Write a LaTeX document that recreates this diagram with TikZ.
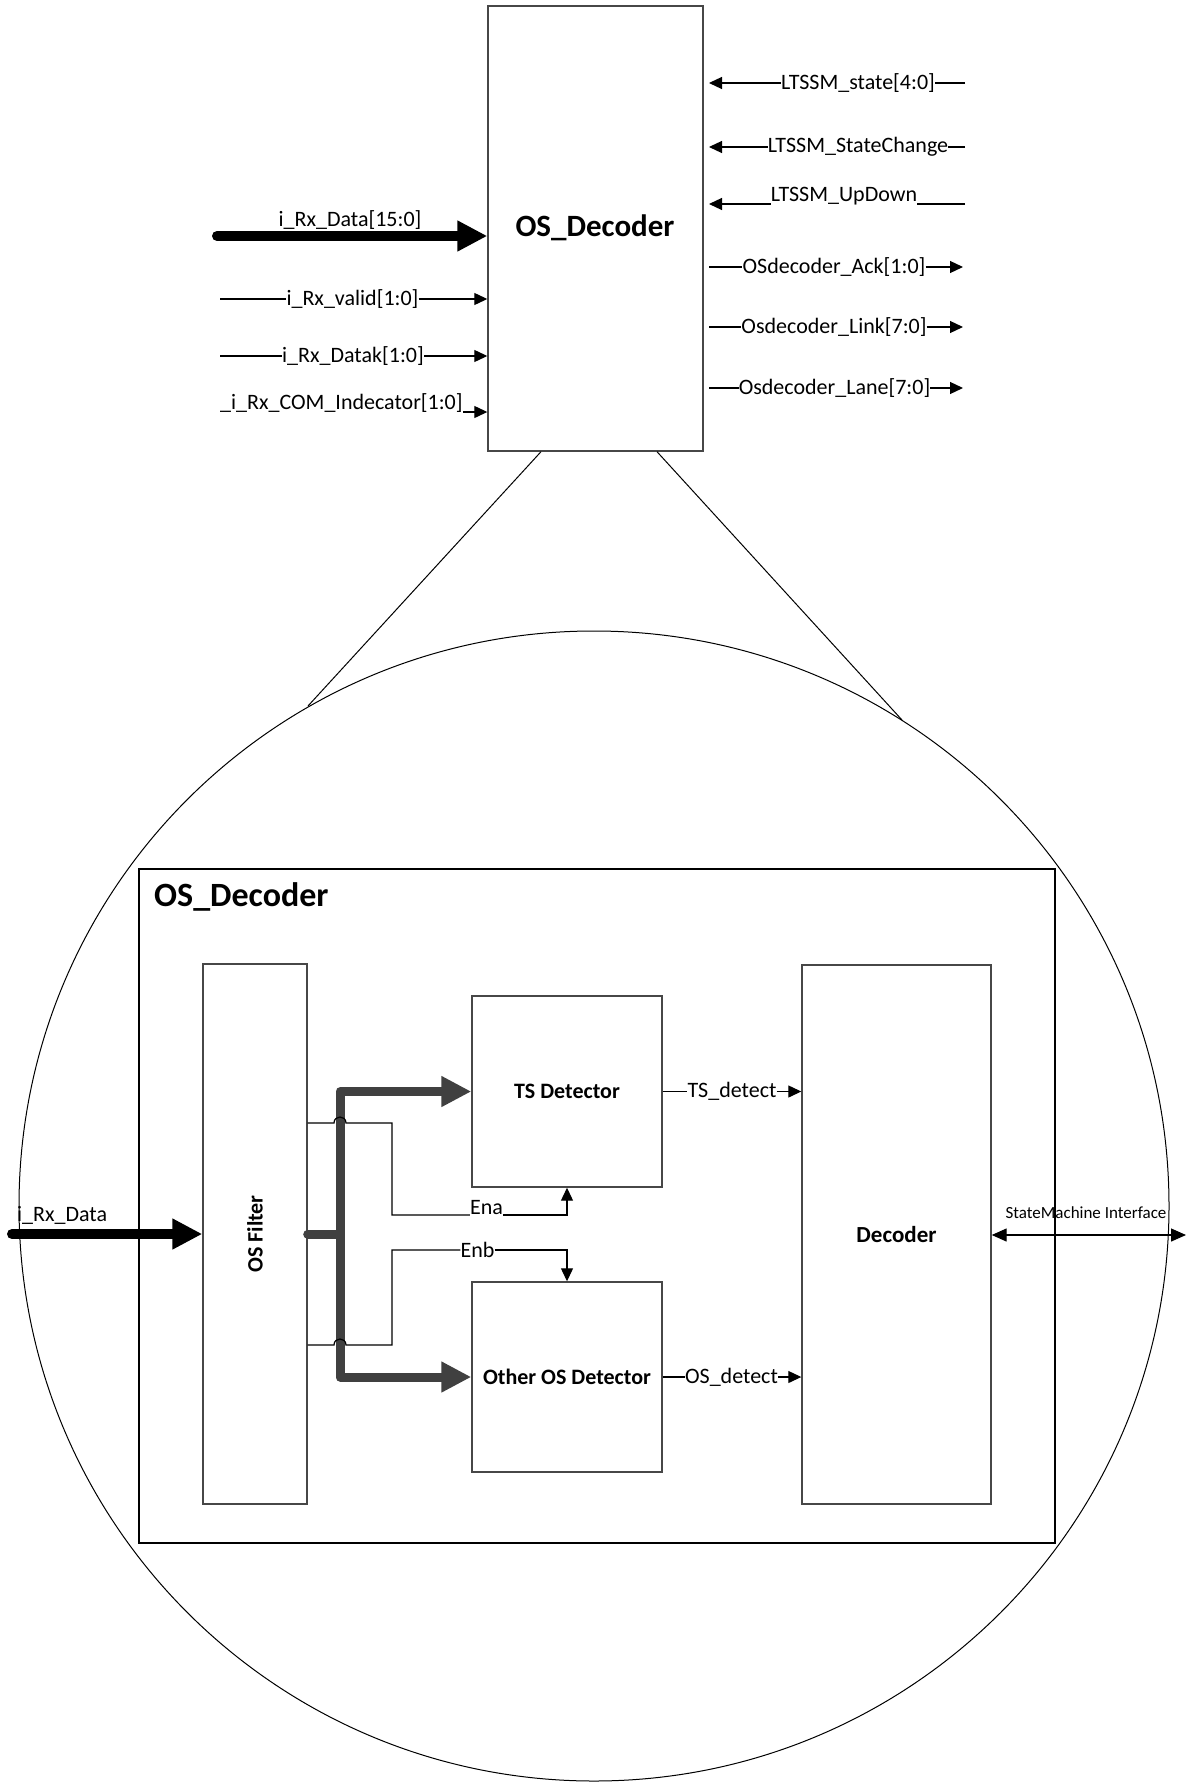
\documentclass[tikz,border=0pt]{standalone}
\usepackage{fontspec}
\usepackage{graphicx}
\setmainfont{Carlito}
\usetikzlibrary{arrows.meta}
\begin{document}
\begin{tikzpicture}[x=1pt,y=-1pt,
  box/.style={draw=black!72,line width=1.4pt,inner sep=0pt},
  lab/.style={inner sep=0pt,font=\fontsize{22}{26}\selectfont},
  blab/.style={inner sep=0pt,font=\fontsize{22}{26}\selectfont\bfseries},
  sig/.style={line width=1.2pt,-{Triangle[length=13pt,width=12pt]}},
  wire/.style={line width=1.2pt},
  dbl/.style={line width=1.3pt,{Triangle[length=15pt,width=13pt]}-{Triangle[length=15pt,width=13pt]}},
  fat/.style={line width=10pt,line cap=round,-{Triangle[length=30pt,width=29pt]}},
  bus/.style={draw=black!75,line width=9pt,line join=round,line cap=round,-{Triangle[length=30pt,width=29pt]}},
]
\useasboundingbox (0,0) rectangle (1188,1784);

% ---------- top block ----------
\node[box,minimum width=215pt,minimum height=445pt] (top) at (595.5,228.5) {};
\node[blab,font=\fontsize{31}{36}\selectfont\bfseries] (toplab) at (595,228) {OS\_Decoder};

% left inputs
\coordinate (d0) at (217,236);
\draw[fat] (d0) -- (d0 -| top.west);
\node[lab,anchor=base] (dlab) at (350,227) {i\_Rx\_Data[15:0]};

\coordinate (v0) at (220,299);
\node[lab] (vlab) at (352.5,299) {i\_Rx\_valid[1:0]};
\draw[wire] (v0) -- (vlab.west);
\draw[sig] (vlab.east) -- (vlab.east -| top.west);

\coordinate (k0) at (220,356);
\node[lab] (klab) at (353,356) {i\_Rx\_Datak[1:0]};
\draw[wire] (k0) -- (klab.west);
\draw[sig] (klab.east) -- (klab.east -| top.west);

\node[lab,anchor=west] (clab) at (220,403) {\_i\_Rx\_COM\_Indecator[1:0]};
\coordinate (c0) at (463,412);
\draw[sig] (c0) -- (c0 -| top.west);

% right signals
\coordinate (rx) at (709,0);
\coordinate (s0) at (965,83);
\node[lab] (slab) at (858,83) {LTSSM\_state[4:0]};
\draw[wire] (s0) -- (slab.east);
\draw[sig] (slab.west) -- (slab.west -| rx);

\coordinate (sc0) at (965,147);
\node[lab] (sclab) at (858,147) {LTSSM\_StateChange};
\draw[wire] (sc0) -- (sclab.east);
\draw[sig] (sclab.west) -- (sclab.west -| rx);

\coordinate (u0) at (965,204);
\node[lab,anchor=base] (ulab) at (844,202) {LTSSM\_UpDown};
\draw[wire] (u0) -- (u0 -| ulab.east);
\draw[sig] (u0 -| ulab.west) -- (u0 -| rx);

\node[lab] (alab) at (834,267) {OSdecoder\_Ack[1:0]};
\coordinate (a0) at (963,267);
\draw[wire] (alab.west -| rx) -- (alab.west);
\draw[sig] (alab.east) -- (a0);

\node[lab] (llab) at (834,327) {Osdecoder\_Link[7:0]};
\coordinate (l0) at (963,327);
\draw[wire] (llab.west -| rx) -- (llab.west);
\draw[sig] (llab.east) -- (l0);

\node[lab] (nlab) at (834.5,388) {Osdecoder\_Lane[7:0]};
\coordinate (n0) at (963,388);
\draw[wire] (nlab.west -| rx) -- (nlab.west);
\draw[sig] (nlab.east) -- (n0);

% ---------- zoom circle ----------
\node[circle,draw=black,line width=1pt,minimum size=1150pt,inner sep=0pt] (zoomc) at (594,1206) {};
\coordinate (z1) at (308,706);
\coordinate (z2) at (902,720);
\draw[line width=1pt] ([xshift=-54.5pt]top.south) -- (z1);
\draw[line width=1pt] ([xshift=61.5pt]top.south) -- (z2);

% ---------- inner frame ----------
\node[draw=black,line width=2pt,minimum width=916pt,minimum height=674pt,inner sep=0pt] (frame) at (597,1206) {};
\node[blab,font=\fontsize{34}{40}\selectfont\bfseries,anchor=west] (flab) at (154,897) {OS\_Decoder};

\node[box,minimum width=104pt,minimum height=540pt] (osf) at (255,1234) {};
\node[blab] (osflab) at (osf.center) {\rotatebox{90}{OS Filter}};

\node[box,minimum width=190pt,minimum height=191pt] (ts) at (567,1091.5) {};
\node[blab] (tslab) at (ts.center) {TS Detector};

\node[box,minimum width=190pt,minimum height=190pt] (other) at (567,1377) {};
\node[blab] (otherlab) at (other.center) {Other OS Detector};

\node[box,minimum width=189pt,minimum height=539pt] (dec) at (896.5,1234.5) {};
\node[blab,font=\fontsize{23}{27}\selectfont\bfseries] (declab) at (dec.center) {Decoder};

% input data
\coordinate (ri) at (12,1234);
\draw[fat] (ri) -- (osf.west |- ri);
\node[lab,anchor=base west] (rilab) at (17,1221) {i\_Rx\_Data};

% bus
\coordinate (bj) at (340,1234);
\draw[bus] (osf.east) -- (bj) |- (ts.west);
\draw[bus] (bj) |- (other.west);

% enables
\coordinate (ea) at (392,1123);
\node[lab,anchor=south] (ena) at (486.5,1215) {Ena};
\draw[wire] (osf.east |- ea) -- (334,1123) .. controls (334,1115) and (346,1115) .. (346,1123) -- (ea) |- (ena.south west);
\draw[sig] (ena.south east) -| (ts.south);

\coordinate (eb) at (392,1345);
\node[lab] (enb) at (477.5,1250) {Enb};
\draw[wire] (osf.east |- eb) -- (334,1345) .. controls (334,1337) and (346,1337) .. (346,1345) -- (eb) |- (enb.west);
\draw[sig] (enb.east) -| (other.north);

% detect outputs
\node[lab] (tsd) at (732,1091) {TS\_detect};
\draw[wire] (ts.east) -- (ts.east -| tsd.west);
\draw[sig] (ts.east -| tsd.east) -- (ts.east -| dec.west);

\node[lab] (osd) at (731.5,1377) {OS\_detect};
\draw[wire] (other.east) -- (other.east -| osd.west);
\draw[sig] (other.east -| osd.east) -- (other.east -| dec.west);

% state machine interface
\coordinate (sm) at (1186,1235);
\draw[dbl] (dec.east |- sm) -- (sm);
\node[lab,font=\fontsize{17}{20}\selectfont] (smlab) at (1086,1213) {StateMachine Interface};

\end{tikzpicture}
\end{document}
